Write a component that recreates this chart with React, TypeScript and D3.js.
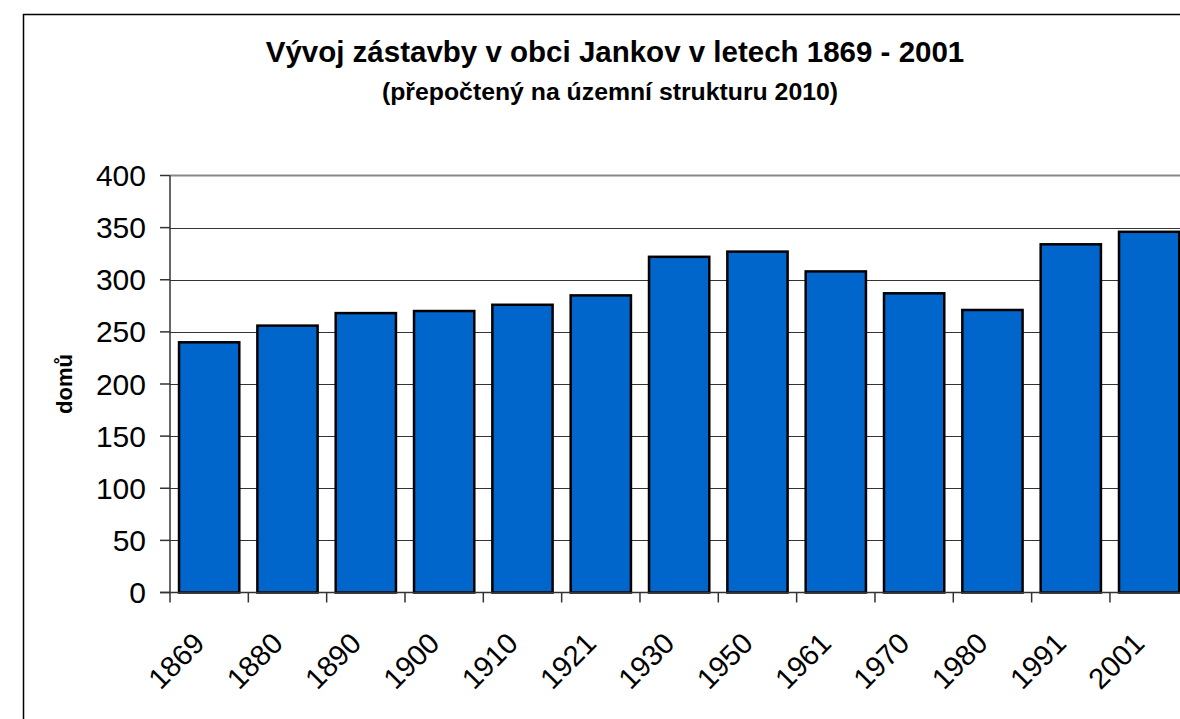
import React from "react";
import * as d3 from "d3";

const years = ["1869", "1880", "1890", "1900", "1910", "1921", "1930", "1950", "1961", "1970", "1980", "1991", "2001"];
const houses = [240, 256, 268, 270, 276, 285, 322, 327, 308, 287, 271, 334, 346];
const yTicks = [0, 50, 100, 150, 200, 250, 300, 350, 400];
const titleText = "Vývoj zástavby v obci Jankov v letech 1869 - 2001";
const subtitleText = "(přepočtený na územní strukturu 2010)";
const yAxisLabel = "domů";

const W = 1180;
const H = 719;
const FONT = "'Liberation Sans', Arial, sans-serif";

export default function App() {
  const left = 170;
  const step = 78.33;
  const right = left + step * years.length;
  const pad = 0.3 / 1.3;
  const x = d3.scaleBand<string>().domain(years).range([left, right]).paddingInner(pad).paddingOuter(pad / 2);
  const y = d3.scaleLinear().domain([0, 400]).range([592.5, 175.5]);
  const boundaries = years.map((d) => (x(d) as number) - x.step() * pad / 2);

  return (
    <svg width={W} height={H} style={{ position: "absolute", left: 0, top: 0, background: "#fff" }} fontFamily={FONT}>
      <rect x={23.5} y={14.5} width={1300} height={900} fill="#fff" stroke="#000" strokeWidth={1.5} />
      <text x={615} y={62} textAnchor="middle" fontSize={29.5} fontWeight="bold" fill="#000">{titleText}</text>
      <text x={610} y={100} textAnchor="middle" fontSize={24.8} fontWeight="bold" fill="#000">{subtitleText}</text>

      {yTicks.filter((t) => t > 0 && t < 400).map((t) => (
        <line key={"g" + t} x1={left} x2={W} y1={Math.round(y(t)) + 0.5} y2={Math.round(y(t)) + 0.5} stroke="#333" strokeWidth={1} />
      ))}
      <line x1={left} x2={W} y1={y(400)} y2={y(400)} stroke="#888" strokeWidth={2} />

      {years.map((d, i) => (
        <rect key={d} x={x(d)} y={y(houses[i])} width={x.bandwidth()} height={y(0) - y(houses[i])} fill="#0066cc" stroke="#000" strokeWidth={2.5} />
      ))}

      <line x1={left} x2={left} y1={y(400)} y2={y(0)} stroke="#333" strokeWidth={1.5} />
      <line x1={left - 10} x2={W} y1={y(0)} y2={y(0)} stroke="#333" strokeWidth={1.5} />
      {yTicks.map((t) => (
        <g key={"t" + t}>
          <line x1={left - 10} x2={left} y1={y(t)} y2={y(t)} stroke="#333" strokeWidth={1.5} />
          <text x={146} y={y(t)} textAnchor="end" dominantBaseline="central" fontSize={30} fill="#000">{t}</text>
        </g>
      ))}
      {boundaries.map((bx, i) => (
        <line key={"b" + i} x1={bx} x2={bx} y1={y(0)} y2={y(0) + 10} stroke="#333" strokeWidth={1.5} />
      ))}
      {years.map((d) => {
        const cx = (x(d) as number) + x.bandwidth() / 2 - 10;
        const cy = 638;
        return (
          <text key={"l" + d} x={cx} y={cy} textAnchor="end" dominantBaseline="central" fontSize={29} fill="#000" transform={`rotate(-45 ${cx} ${cy})`}>{d}</text>
        );
      })}
      <text x={0} y={0} transform={`translate(72 384) rotate(-90)`} textAnchor="middle" fontSize={22} fontWeight="bold" fill="#000">{yAxisLabel}</text>
    </svg>
  );
}
